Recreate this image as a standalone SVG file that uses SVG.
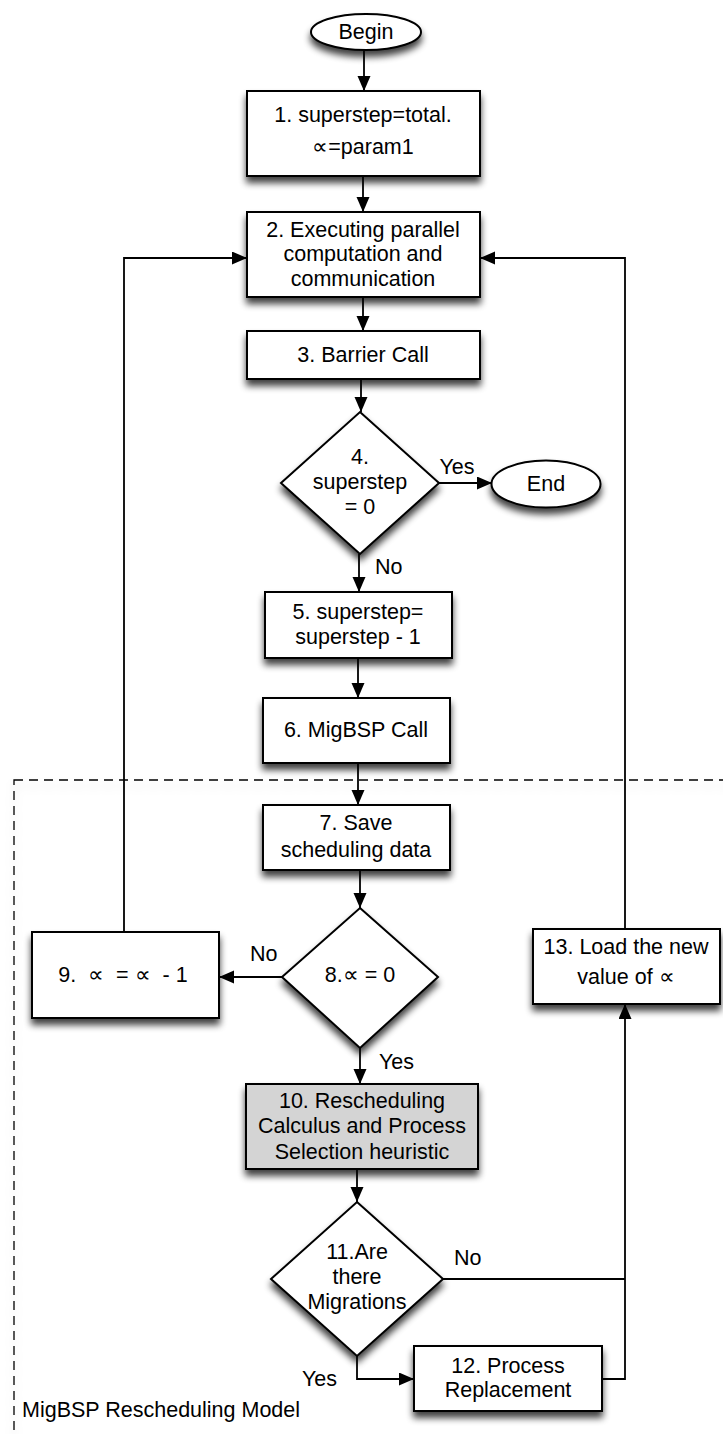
<svg xmlns="http://www.w3.org/2000/svg" width="723" height="1434" viewBox="0 0 723 1434">
<defs>
<style>
text{font-family:"Liberation Sans",Arial,Helvetica,sans-serif;font-size:21.5px;fill:#000;}
.c{text-anchor:middle;}
.box{fill:#fff;stroke:#000;stroke-width:2;filter:url(#sh);}
.gray{fill:#d4d4d4;}
.ln{fill:none;stroke:#000;stroke-width:1.8;}
.arr{marker-end:url(#ah);}
.dash{fill:none;stroke:#000;stroke-width:1.3;stroke-dasharray:9,6;filter:url(#sh2);}
</style>
<filter id="sh" x="-20%" y="-20%" width="140%" height="160%">
<feGaussianBlur in="SourceAlpha" stdDeviation="3.5"/>
<feOffset dx="0" dy="6" result="b"/>
<feComponentTransfer><feFuncA type="linear" slope="0.75"/></feComponentTransfer>
<feMerge><feMergeNode/><feMergeNode in="SourceGraphic"/></feMerge>
</filter>
<filter id="sh2" x="-5%" y="-5%" width="110%" height="110%">
<feDropShadow dx="0" dy="6" stdDeviation="5" flood-color="#000" flood-opacity="0.15"/>
</filter>
<marker id="ah" markerUnits="userSpaceOnUse" markerWidth="16" markerHeight="14" refX="15" refY="6.5" orient="auto">
<path d="M0,0 L15,6.5 L0,13 z" fill="#000"/>
</marker>
</defs>

<g id="region">
<rect class="dash" x="14" y="780" width="720" height="700"/>
<text x="22" y="1417">MigBSP Rescheduling Model</text>
</g>

<g id="connectors">
<line class="ln arr" x1="364" y1="50" x2="364" y2="91"/>
<line class="ln arr" x1="363" y1="176" x2="363" y2="212"/>
<line class="ln arr" x1="363" y1="297" x2="363" y2="331"/>
<line class="ln arr" x1="361" y1="379" x2="361" y2="412"/>
<line class="ln arr" x1="439" y1="483" x2="492" y2="483"/>
<text class="c" x="457" y="474">Yes</text>
<line class="ln arr" x1="359" y1="554" x2="359" y2="592"/>
<text x="375" y="574">No</text>
<line class="ln arr" x1="358" y1="658" x2="358" y2="698"/>
<line class="ln arr" x1="358" y1="763" x2="358" y2="805"/>
<line class="ln arr" x1="360" y1="870" x2="360" y2="908"/>
<line class="ln arr" x1="282" y1="977" x2="219" y2="977"/>
<text x="250" y="961">No</text>
<polyline class="ln arr" points="124,932 124,258 247,258"/>
<line class="ln arr" x1="360" y1="1048" x2="360" y2="1084"/>
<text x="379" y="1069">Yes</text>
<line class="ln arr" x1="357" y1="1169" x2="357" y2="1202"/>
<line class="ln" x1="443" y1="1279" x2="625" y2="1279"/>
<text x="454" y="1265">No</text>
<polyline class="ln arr" points="357,1356 357,1379 414,1379"/>
<text x="302" y="1386">Yes</text>
<polyline class="ln arr" points="602,1379 625,1379 625,1004"/>
<polyline class="ln arr" points="625,929 625,258 480,258"/>
</g>

<g id="begin">
<ellipse class="box" cx="366" cy="32" rx="55" ry="18"/>
<text class="c" x="366" y="39">Begin</text>
</g>
<g id="n1">
<rect class="box" x="247" y="91" width="233" height="85"/>
<text class="c" x="363" y="122">1. superstep=total.</text>
<text class="c" x="363" y="154">∝=param1</text>
</g>
<g id="n2">
<rect class="box" x="247" y="212" width="233" height="85"/>
<text class="c" x="363" y="237">2. Executing parallel</text>
<text class="c" x="363" y="261">computation and</text>
<text class="c" x="363" y="286">communication</text>
</g>
<g id="n3">
<rect class="box" x="247" y="331" width="233" height="48"/>
<text class="c" x="363" y="362">3. Barrier Call</text>
</g>
<g id="n4">
<polygon class="box" points="360,412 439,483 360,554 281,483"/>
<text class="c" x="360" y="464">4.</text>
<text class="c" x="360" y="489">superstep</text>
<text class="c" x="360" y="514">= 0</text>
</g>
<g id="end">
<ellipse class="box" cx="546" cy="484" rx="54.5" ry="23.5"/>
<text class="c" x="546" y="491">End</text>
</g>
<g id="n5">
<rect class="box" x="265" y="592" width="187" height="66"/>
<text class="c" x="358" y="619">5. superstep=</text>
<text class="c" x="358" y="644">superstep - 1</text>
</g>
<g id="n6">
<rect class="box" x="263" y="698" width="187" height="65"/>
<text class="c" x="356" y="737">6. MigBSP Call</text>
</g>
<g id="n7">
<rect class="box" x="263" y="805" width="187" height="65"/>
<text class="c" x="356" y="830">7. Save</text>
<text class="c" x="356" y="857">scheduling data</text>
</g>
<g id="n8">
<polygon class="box" points="360,908 438,977 360,1048 282,977"/>
<text class="c" x="360" y="982">8.∝ = 0</text>
</g>
<g id="n9">
<rect class="box" x="32" y="932" width="187" height="86"/>
<text class="c" x="123" y="982" xml:space="preserve">9.  ∝  = ∝  - 1</text>
</g>
<g id="n10">
<rect class="box gray" x="246" y="1084" width="232" height="85"/>
<text class="c" x="362" y="1108">10. Rescheduling</text>
<text class="c" x="362" y="1133">Calculus and Process</text>
<text class="c" x="362" y="1159">Selection heuristic</text>
</g>
<g id="n11">
<polygon class="box" points="357,1202 443,1279 357,1356 271,1279"/>
<text class="c" x="357" y="1259">11.Are</text>
<text class="c" x="357" y="1284">there</text>
<text class="c" x="357" y="1309">Migrations</text>
</g>
<g id="n12">
<rect class="box" x="414" y="1346" width="188" height="65"/>
<text class="c" x="508" y="1373">12. Process</text>
<text class="c" x="508" y="1397">Replacement</text>
</g>
<g id="n13">
<rect class="box" x="533" y="929" width="187" height="75"/>
<text class="c" x="626" y="954">13. Load the new</text>
<text class="c" x="626" y="984">value of ∝</text>
</g>
</svg>
